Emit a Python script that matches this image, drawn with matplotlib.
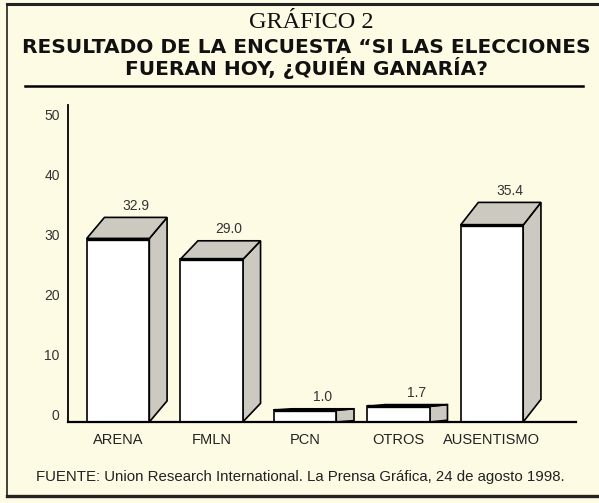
import matplotlib.pyplot as plt
from matplotlib.patches import Polygon, Rectangle
from matplotlib.lines import Line2D

categories = ["ARENA", "FMLN", "PCN", "OTROS", "AUSENTISMO"]
values = [32.9, 29.0, 1.0, 1.7, 35.4]
value_labels = ["32.9", "29.0", "1.0", "1.7", "35.4"]
yticks = [0, 10, 20, 30, 40, 50]

title_top = "GRÁFICO 2"
title_main = "RESULTADO DE LA ENCUESTA “SI LAS ELECCIONES\nFUERAN HOY, ¿QUIÉN GANARÍA?"
source = "FUENTE: Union Research International. La Prensa Gráfica, 24 de agosto 1998."

BG = "#fdfbe4"
SIDE = "#cbc9c0"
W, H = 599, 503

plt.rcParams["font.family"] = ["Liberation Sans", "DejaVu Sans"]

fig = plt.figure(figsize=(W / 100, H / 100), dpi=100, facecolor=BG)


def fy(py):
    return 1 - py / H


# frame of the printed box
fig.add_artist(Line2D([7 / W, 1], [fy(4), fy(4)], color="#222222", lw=2.2))
fig.add_artist(Line2D([7 / W, 7 / W], [fy(4), fy(496)], color="#222222", lw=1.2))
fig.add_artist(Line2D([7 / W, 1], [fy(496), fy(496)], color="#222222", lw=2.4))
fig.add_artist(Line2D([25 / W, 583 / W], [fy(86), fy(86)], color="black", lw=1.8))

fig.text(311 / W, fy(22), title_top, ha="center", va="center",
         family="Liberation Serif", fontsize=17.5, color="#111111")
fig.text(306 / W, fy(58.5), title_main, ha="center", va="center",
         family="DejaVu Sans", fontsize=14.5, fontweight="bold",
         linespacing=0.95, color="#111111")
fig.text(36 / W, fy(477), source, ha="left", va="center", fontsize=10.8, color="#222222")

# axes: baseline at y=422 px, y-axis at x=68 px
left, right, bottom, top = 68, 576, 422, 105
ax = fig.add_axes([left / W, fy(bottom), (right - left) / W, (bottom - top) / H])
ax.set_facecolor("none")

base = -1.2
ax.set_ylim(base, base + (bottom - top) / 6)
ax.set_xlim(-0.535, 4.9)

width = 0.67
dx = 0.19
k = 0.115

for i, v in enumerate(values):
    xl = i - width / 2
    xr = i + width / 2
    fh = (v - base) / (1 + k)
    dy = k * fh
    t = base + fh
    ax.add_patch(Polygon([(xr, base), (xr + dx, base + dy), (xr + dx, t + dy), (xr, t)],
                         closed=True, facecolor=SIDE, edgecolor="black", lw=1.2))
    ax.add_patch(Polygon([(xl, t), (xl + dx, t + dy), (xr + dx, t + dy), (xr, t)],
                         closed=True, facecolor=SIDE, edgecolor="black", lw=1.2))
    ax.add_patch(Rectangle((xl, base), width, fh, facecolor="white",
                           edgecolor="black", lw=1.2))
    ax.plot([xl, xr], [t, t], color="black", lw=2.4, solid_capstyle="butt")
    ax.text(i + dx, t + dy + 1.9, value_labels[i], ha="center", va="center",
            fontsize=10, color="#333333")

ax.set_xticks(range(len(categories)))
ax.set_xticklabels(categories, fontsize=10.5, color="#222222")
ax.set_yticks(yticks)
ax.set_yticklabels([str(t) for t in yticks], fontsize=10, color="#333333")
ax.tick_params(axis="both", length=0)
ax.tick_params(axis="x", pad=8)
ax.tick_params(axis="y", pad=6)

for s in ["top", "right"]:
    ax.spines[s].set_visible(False)
ax.spines["left"].set_linewidth(1.3)
ax.spines["bottom"].set_linewidth(1.6)
ax.spines["bottom"].set_zorder(5)

fig.savefig("out.png", dpi=100, facecolor=BG)
